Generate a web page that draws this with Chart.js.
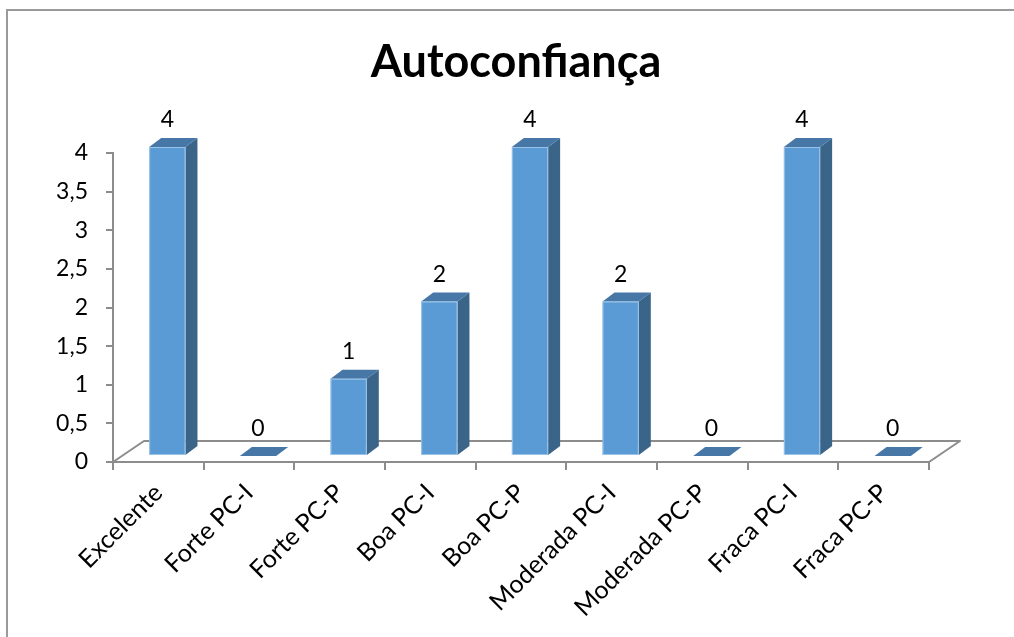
<!DOCTYPE html>
<html>
<head>
<meta charset="utf-8">
<script src="https://cdn.jsdelivr.net/npm/chart.js@4/dist/chart.umd.min.js"></script>
<style>
  html, body { margin: 0; padding: 0; background: #fff; overflow: hidden; }
  #wrap { width: 1014px; height: 637px; position: relative; }
</style>
</head>
<body>
<div id="wrap"><canvas id="c" width="1014" height="637"></canvas></div>
<script>
// Survey results: self-confidence ratings
const categories = ['Excelente', 'Forte PC-I', 'Forte PC-P', 'Boa PC-I', 'Boa PC-P',
                    'Moderada PC-I', 'Moderada PC-P', 'Fraca PC-I', 'Fraca PC-P'];
const counts = [4, 0, 1, 2, 4, 2, 0, 4, 0];
const yTickLabels = ['0', '0,5', '1', '1,5', '2', '2,5', '3', '3,5', '4'];
const chartTitle = 'Autoconfiança';

const FONT = 'Lato, "Open Sans", sans-serif';
const LABEL_SIZE = 23;
const CAT_SIZE = 25;
const AXIS_GREY = '#8c8c8c';
const FRONT = '#5b9bd5';
const SIDE = '#3b6489';
const TOP = '#4677a7';

// 3D look: floor depth, bar depth and how far the bars sit into the floor
const FLOOR = { dx: 31, dy: -21 };
const DEPTH = { dx: 12, dy: -9 };
const SHIFT = { dx: 9, dy: -6 };

// Outer frame (left and top edges visible)
const framePlugin = {
  id: 'frame',
  beforeDraw(chart) {
    const ctx = chart.ctx;
    ctx.save();
    ctx.fillStyle = '#fff';
    ctx.fillRect(0, 0, chart.width, chart.height);
    ctx.strokeStyle = '#9a9a9a';
    ctx.lineWidth = 2;
    ctx.beginPath();
    ctx.moveTo(7, chart.height + 2);
    ctx.lineTo(7, 10);
    ctx.lineTo(chart.width + 2, 10);
    ctx.stroke();
    ctx.restore();
  }
};

const bar3dPlugin = {
  id: 'bar3d',
  beforeDatasetsDraw(chart) {
    const { ctx, chartArea: a } = chart;
    const y0 = chart.scales.y.getPixelForValue(0);
    ctx.save();
    ctx.strokeStyle = AXIS_GREY;
    ctx.lineWidth = 2;
    ctx.lineJoin = 'round';
    ctx.beginPath();
    ctx.moveTo(a.left, y0);
    ctx.lineTo(a.left + FLOOR.dx, y0 + FLOOR.dy);
    ctx.lineTo(a.right + FLOOR.dx, y0 + FLOOR.dy);
    ctx.lineTo(a.right, y0);
    ctx.stroke();
    ctx.restore();
  },
  afterDatasetsDraw(chart) {
    const ctx = chart.ctx;
    const meta = chart.getDatasetMeta(0);
    ctx.save();
    meta.data.forEach((bar, i) => {
      const p = bar.getProps(['x', 'y', 'base', 'width'], true);
      const l = p.x - p.width / 2 + SHIFT.dx;
      const r = p.x + p.width / 2 + SHIFT.dx;
      const t = p.y + SHIFT.dy;
      const b = p.base + SHIFT.dy;
      const h = b - t;
      if (h > 0.5) {
        // side face
        ctx.fillStyle = SIDE;
        ctx.beginPath();
        ctx.moveTo(r, t);
        ctx.lineTo(r + DEPTH.dx, t + DEPTH.dy);
        ctx.lineTo(r + DEPTH.dx, b + DEPTH.dy);
        ctx.lineTo(r, b);
        ctx.closePath();
        ctx.fill();
      }
      // top face
      ctx.fillStyle = TOP;
      ctx.beginPath();
      ctx.moveTo(l, t);
      ctx.lineTo(r, t);
      ctx.lineTo(r + DEPTH.dx, t + DEPTH.dy);
      ctx.lineTo(l + DEPTH.dx, t + DEPTH.dy);
      ctx.closePath();
      ctx.fill();
      if (h > 0.5) {
        // front face
        ctx.fillStyle = FRONT;
        ctx.fillRect(l, t, r - l, h);
        ctx.strokeStyle = 'rgba(170,205,235,0.8)';
        ctx.lineWidth = 1;
        ctx.strokeRect(l + 0.5, t + 0.5, r - l - 1, h - 1);
      }
      // value label
      ctx.fillStyle = '#000';
      ctx.font = LABEL_SIZE + 'px ' + FONT;
      ctx.textAlign = 'center';
      ctx.textBaseline = 'middle';
      ctx.fillText(String(counts[i]), (l + r) / 2, t - 27);
    });
    ctx.restore();
  }
};

new Chart(document.getElementById('c'), {
  type: 'bar',
  data: {
    labels: categories,
    datasets: [{
      label: chartTitle,
      data: counts,
      backgroundColor: 'rgba(0,0,0,0)',
      borderWidth: 0,
      barPercentage: 0.4,
      categoryPercentage: 1,
      yAxisID: 'y'
    }]
  },
  options: {
    responsive: false,
    animation: false,
    devicePixelRatio: 1,
    layout: { padding: { left: 18, right: 0, top: 0, bottom: 0 } },
    plugins: {
      legend: { display: false },
      tooltip: { enabled: false },
      title: {
        display: true,
        text: chartTitle,
        color: '#000',
        font: { family: FONT, size: 45, weight: 'bold', lineHeight: 1.2 },
        padding: { top: 35, bottom: 64 }
      }
    },
    scales: {
      x: {
        afterFit(scale) { scale.height = 175; },
        grid: {
          offset: true,
          drawOnChartArea: false,
          drawTicks: true,
          tickLength: 8,
          color: AXIS_GREY,
          lineWidth: 2
        },
        border: { color: AXIS_GREY, width: 2 },
        ticks: {
          autoSkip: false,
          minRotation: 45,
          maxRotation: 45,
          padding: 8,
          color: '#000',
          font: { family: FONT, size: CAT_SIZE }
        }
      },
      y: {
        min: 0,
        max: 4,
        afterFit(scale) { scale.width = 95; },
        grid: {
          drawOnChartArea: false,
          drawTicks: true,
          tickLength: 7,
          color: AXIS_GREY,
          lineWidth: 2
        },
        border: { color: AXIS_GREY, width: 2 },
        ticks: {
          stepSize: 0.5,
          autoSkip: false,
          padding: 18,
          color: '#000',
          font: { family: FONT, size: LABEL_SIZE },
          callback: (v, i) => yTickLabels[i]
        }
      },
      // empty margin on the right of the plot
      side: {
        position: 'right',
        afterFit(scale) { scale.width = 85; },
        grid: { display: false },
        border: { display: false },
        ticks: { display: false }
      }
    }
  },
  plugins: [framePlugin, bar3dPlugin]
});
</script>
</body>
</html>
